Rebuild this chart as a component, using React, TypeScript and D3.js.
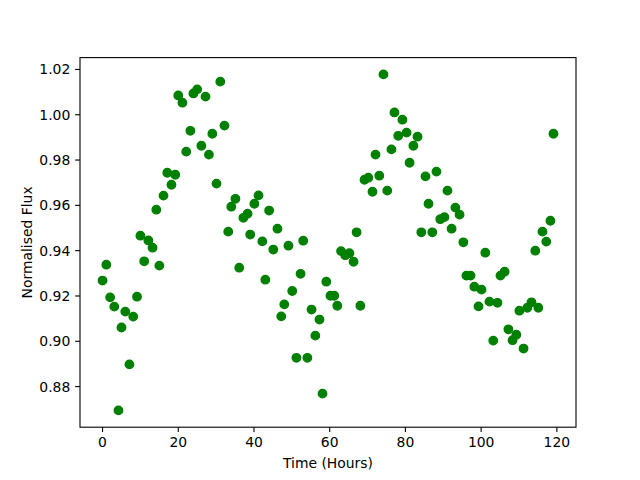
import React from "react";
import * as d3 from "d3";

const hours: number[] = [
  0, 1.0, 2.0, 3.1, 4.2, 5.0, 6.0, 7.1, 8.1, 9.1,
  10.0, 11.0, 12.1, 13.2, 14.2, 15.0, 16.1, 17.1, 18.2, 19.2,
  20.0, 21.1, 22.1, 23.2, 24.0, 25.0, 26.1, 27.2, 28.1, 29.0,
  30.1, 31.1, 32.2, 33.2, 34.0, 35.1, 36.1, 37.2, 38.3, 39.0,
  40.1, 41.2, 42.2, 43.0, 44.0, 45.1, 46.2, 47.2, 48.0, 49.1,
  50.1, 51.2, 52.3, 53.0, 54.1, 55.2, 56.2, 57.3, 58.1, 59.1,
  60.2, 61.2, 62.0, 63.0, 64.1, 65.2, 66.3, 67.1, 68.1, 69.2,
  70.2, 71.3, 72.1, 73.1, 74.2, 75.2, 76.3, 77.1, 78.1, 79.2,
  80.3, 81.1, 82.1, 83.2, 84.2, 85.3, 86.1, 87.1, 88.2, 89.2,
  90.3, 91.1, 92.2, 93.2, 94.3, 95.3, 96.1, 97.2, 98.2, 99.3,
  100.1, 101.1, 102.2, 103.2, 104.3, 105.1, 106.2, 107.2, 108.3, 109.3,
  110.1, 111.2, 112.2, 113.3, 114.3, 115.1, 116.2, 117.2, 118.3, 119.1,
];

const flux: number[] = [
  0.9268, 0.9338, 0.9194, 0.9153, 0.8695, 0.9061, 0.9131, 0.8898, 0.9109, 0.9197,
  0.9466, 0.9353, 0.9445, 0.9413, 0.9581, 0.9334, 0.9643, 0.9744, 0.9691, 0.9735,
  1.0085, 1.0053, 0.9837, 0.9929, 1.0094, 1.0112, 0.9863, 1.0080, 0.9824, 0.9916,
  0.9696, 1.0146, 0.9952, 0.9484, 0.9594, 0.9629, 0.9325, 0.9545, 0.9563, 0.9471,
  0.9607, 0.9644, 0.9441, 0.9272, 0.9577, 0.9405, 0.9497, 0.9110, 0.9163, 0.9422,
  0.9222, 0.8927, 0.9298, 0.9444, 0.8927, 0.9140, 0.9025, 0.9096, 0.8769, 0.9263,
  0.9201, 0.9201, 0.9157, 0.9398, 0.9380, 0.9389, 0.9351, 0.9481, 0.9157, 0.9713,
  0.9722, 0.9660, 0.9824, 0.9731, 1.0178, 0.9665, 0.9847, 1.0010, 0.9907, 0.9978,
  0.9921, 0.9788, 0.9863, 0.9903, 0.9481, 0.9728, 0.9607, 0.9481, 0.9749, 0.9539,
  0.9548, 0.9665, 0.9497, 0.9590, 0.9559, 0.9437, 0.9290, 0.9290, 0.9241, 0.9154,
  0.9228, 0.9391, 0.9175, 0.9003, 0.9170, 0.9290, 0.9307, 0.9053, 0.9005, 0.9029,
  0.9135, 0.8968, 0.9148, 0.9172, 0.9400, 0.9148, 0.9484, 0.9440, 0.9532, 0.9916,
];

const xTicks: number[] = [0, 20, 40, 60, 80, 100, 120];
const yTicks: number[] = [0.88, 0.9, 0.92, 0.94, 0.96, 0.98, 1.0, 1.02];

const W = 640, H = 480;
const L = 80, R = 576, T = 57.6, B = 427.2;
const FONT = "DejaVu Sans, sans-serif";

function padded(vals: number[]): [number, number] {
  const [a, b] = d3.extent(vals) as [number, number];
  const m = (b - a) * 0.05;
  return [a - m, b + m];
}

export default function App() {
  const x = d3.scaleLinear().domain(padded(hours)).range([L, R]);
  const y = d3.scaleLinear().domain(padded(flux)).range([B, T]);
  const tick = 4.86;
  return (
    <svg width={W} height={H} style={{ position: "absolute", left: 0, top: 0, background: "#fff" }} fontFamily={FONT}>
      <rect x={0} y={0} width={W} height={H} fill="#fff" />
      {hours.map((h, i) => (
        <circle key={i} cx={x(h)} cy={y(flux[i])} r={4.2} fill="#008000" stroke="#008000" strokeWidth={1.4} />
      ))}
      <rect x={L} y={T} width={R - L} height={B - T} fill="none" stroke="#000" strokeWidth={1.1} />
      {xTicks.map((t) => (
        <g key={t}>
          <line x1={x(t)} x2={x(t)} y1={B} y2={B + tick} stroke="#000" strokeWidth={1.1} />
          <text x={x(t)} y={B + tick + 4.86 + 10.5} fontSize={13.9} textAnchor="middle" fill="#000">
            {t}
          </text>
        </g>
      ))}
      {yTicks.map((t) => (
        <g key={t}>
          <line x1={L - tick} x2={L} y1={y(t)} y2={y(t)} stroke="#000" strokeWidth={1.1} />
          <text x={L - tick - 4.86} y={y(t) + 5} fontSize={13.9} textAnchor="end" fill="#000">
            {d3.format(".2f")(t)}
          </text>
        </g>
      ))}
      <text x={(L + R) / 2} y={468} fontSize={13.9} textAnchor="middle" fill="#000">
        Time (Hours)
      </text>
      <text transform={`translate(32,${(T + B) / 2}) rotate(-90)`} fontSize={13.9} textAnchor="middle" fill="#000">
        Normalised Flux
      </text>
    </svg>
  );
}
